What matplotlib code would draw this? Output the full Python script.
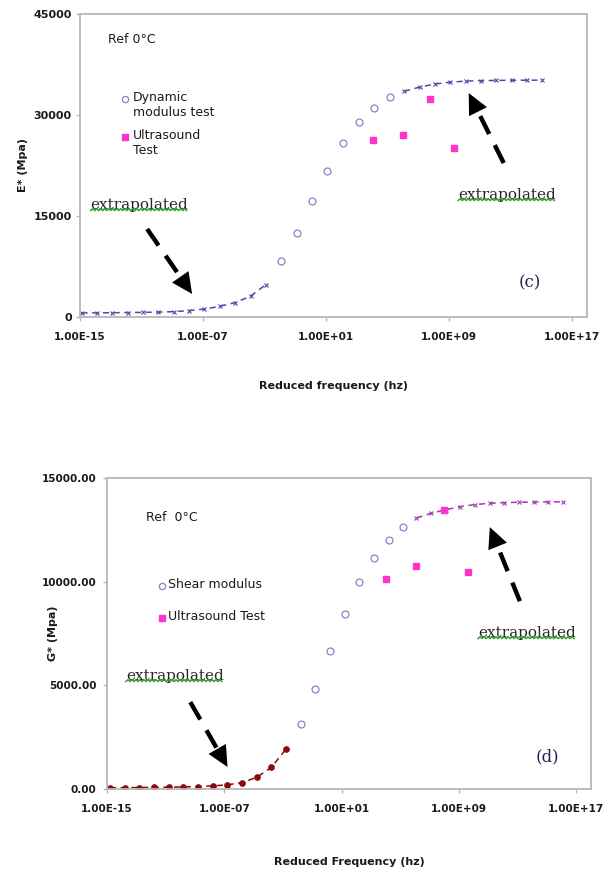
import matplotlib
matplotlib.use('Agg')
import matplotlib.pyplot as plt
import numpy as np
from matplotlib.lines import Line2D
from matplotlib.transforms import IdentityTransform
from matplotlib.ticker import FixedLocator, FuncFormatter, NullLocator

# (c) dynamic modulus E*, ref 0°C -- x values are log10 of reduced frequency
dyn_logf = [-1.9, -0.9, 0.1, 1.1, 2.1, 3.15, 4.15, 5.2]
dyn_E = [8390, 12470, 17240, 21700, 25820, 28890, 31110, 32620]

e_low_logf = [-14.9, -13.9, -12.9, -11.9, -10.9, -9.9, -8.9, -7.9, -6.9, -5.9, -4.9, -3.9, -2.9]
e_low = [600, 620, 640, 660, 690, 720, 800, 940, 1190, 1590, 2140, 3080, 4820]

e_high_logf = [6.1, 7.1, 8.1, 9.1, 10.1, 11.1, 12.1, 13.1, 14.1, 15.1]
e_high = [33500, 34150, 34600, 34880, 35030, 35100, 35140, 35160, 35170, 35180]

us_e_logf = [4.1, 6.0, 7.8, 9.35]
us_E = [26230, 27080, 32370, 25120]

# (d) shear modulus G*
shear_logf = [-1.8, -0.8, 0.2, 1.2, 2.2, 3.2, 4.2, 5.2]
shear_G = [3125, 4810, 6650, 8435, 9970, 11145, 12020, 12630]

g_low_logf = [-14.8, -13.8, -12.8, -11.8, -10.8, -9.8, -8.8, -7.8, -6.8, -5.8, -4.8, -3.8, -2.8]
g_low = [60, 65, 70, 78, 88, 100, 120, 150, 200, 310, 560, 1040, 1920]

g_high_logf = [6.1, 7.1, 8.1, 9.1, 10.1, 11.1, 12.1, 13.1, 14.1, 15.1, 16.1]
g_high = [13070, 13300, 13470, 13620, 13720, 13780, 13810, 13830, 13840, 13845, 13850]

us_g_logf = [4.0, 6.1, 8.0, 9.6]
us_G = [10130, 10740, 13480, 10450]

xtick_exp = [-15, -7, 1, 9, 17]
e_ticks = [0, 15000, 30000, 45000]
g_ticks = [0, 5000, 10000, 15000]

circ_col = '#8484cc'
sq_col = '#ff33cc'
blue_curve = '#4c4ca8'
purple_curve = '#a03cb4'
red_curve = '#8b0a0a'
text_col = '#1a1a1a'


def f(logs):
    return 10.0 ** np.array(logs)


fig = plt.figure(figsize=(6.08, 8.74), dpi=100)
ax1 = fig.add_axes([80 / 608, 1 - 317 / 874, 507 / 608, 303 / 874])
ax2 = fig.add_axes([107 / 608, 1 - 789 / 874, 484 / 608, 311 / 874])


def style_axes(ax, yticks, yfmt, ysize, ypad):
    ax.set_xscale('log')
    ax.set_xlim(1e-15, 1e18)
    ax.set_ylim(yticks[0], yticks[-1])
    ax.xaxis.set_major_locator(FixedLocator(f(xtick_exp)))
    ax.xaxis.set_minor_locator(NullLocator())
    ax.xaxis.set_major_formatter(FuncFormatter(lambda v, p: f'{v:.2E}'))
    ax.yaxis.set_major_locator(FixedLocator(yticks))
    ax.yaxis.set_major_formatter(FuncFormatter(yfmt))
    for s in ax.spines.values():
        s.set_color('#b8b8b8')
        s.set_linewidth(1.3)
    ax.tick_params(axis='both', colors='#b8b8b8', length=3, width=1,
                   direction='out', labelcolor=text_col)
    ax.tick_params(axis='x', labelsize=7.5, pad=8)
    ax.tick_params(axis='y', labelsize=ysize, pad=ypad)
    for lab in ax.get_xticklabels() + ax.get_yticklabels():
        lab.set_fontweight('bold')


style_axes(ax1, e_ticks, lambda v, p: f'{v:.0f}', 8, 3)
style_axes(ax2, g_ticks, lambda v, p: f'{v:.2f}', 7.5, 4.5)

dash = (0, (4, 3))

# top panel
ax1.plot(f(e_low_logf), e_low, ls=dash, color=blue_curve, lw=1.1,
         marker='x', ms=2.5, mew=0.8)
ax1.plot(f(e_high_logf), e_high, ls=dash, color=blue_curve, lw=1.1,
         marker='x', ms=2.5, mew=0.8)
ax1.plot(f(dyn_logf), dyn_E, ls='none', marker='o', ms=5, mfc='white',
         mec=circ_col, mew=0.9)
ax1.plot(f(us_e_logf), us_E, ls='none', marker='s', ms=4.5, color=sq_col)

# bottom panel
ax2.plot(f(g_low_logf), g_low, ls=dash, color=red_curve, lw=1.1,
         marker='o', ms=3.8)
ax2.plot(f(g_high_logf), g_high, ls=dash, color=purple_curve, lw=1.1,
         marker='x', ms=2.5, mew=0.8)
ax2.plot(f(shear_logf), shear_G, ls='none', marker='o', ms=5, mfc='white',
         mec=circ_col, mew=0.9)
ax2.plot(f(us_g_logf), us_G, ls='none', marker='s', ms=4.5, color=sq_col)

# axis titles
ax1.set_xlabel('Reduced frequency (hz)', fontsize=8, fontweight='bold', color=text_col)
ax1.xaxis.set_label_coords(0.5, -0.211)
ax1.set_ylabel('E* (Mpa)', fontsize=8, fontweight='bold', color=text_col)
ax1.yaxis.set_label_coords(-0.103, 0.5)
ax2.set_xlabel('Reduced Frequency (hz)', fontsize=8, fontweight='bold', color=text_col)
ax2.xaxis.set_label_coords(0.5, -0.219)
ax2.set_ylabel('G* (Mpa)', fontsize=8, fontweight='bold', color=text_col)
ax2.yaxis.set_label_coords(-0.101, 0.5)


def key(ax, x, y, label, dx, **style):
    ax.plot([x], [y], transform=ax.transAxes, ls='none', clip_on=False, **style)
    ax.annotate(label, xy=(x, y), xycoords='axes fraction', xytext=(dx, 5.5),
                textcoords='offset points', va='top', ha='left', fontsize=9,
                color=text_col, linespacing=1.15)


key(ax1, 0.0888, 0.7195, 'Dynamic\nmodulus test', 5.8, marker='o', ms=4.5,
    mfc='white', mec=circ_col, mew=0.9)
key(ax1, 0.0888, 0.594, 'Ultrasound\nTest', 5.8, marker='s', ms=4.5, color=sq_col)
key(ax2, 0.1136, 0.6527, 'Shear modulus', 4.3, marker='o', ms=4.5,
    mfc='white', mec=circ_col, mew=0.9)
key(ax2, 0.1136, 0.55, 'Ultrasound Test', 4.3, marker='s', ms=4.5, color=sq_col)

ax1.text(10 ** -13.17, 41280, 'Ref 0°C', fontsize=9, color=text_col, va='center')
ax2.text(10 ** -12.33, 13110, 'Ref  0°C', fontsize=9, color=text_col, va='center')

notes = [
    ax1.text(10 ** -11.12, 16630, 'extrapolated', family='DejaVu Serif',
             fontsize=11, color='#2b2620', ha='center', va='center'),
    ax1.text(10 ** 12.8, 18120, 'extrapolated', family='DejaVu Serif',
             fontsize=11, color='#2b2620', ha='center', va='center'),
    ax2.text(10 ** -10.38, 5450, 'extrapolated', family='DejaVu Serif',
             fontsize=11, color='#2b2620', ha='center', va='center'),
    ax2.text(10 ** 13.63, 7520, 'extrapolated', family='DejaVu Serif',
             fontsize=11, color='#2b2620', ha='center', va='center'),
]

ax1.text(10 ** 14.27, 5050, '(c)', family='DejaVu Serif', fontsize=12,
         color='#20205a', ha='center', va='center')
ax2.text(10 ** 15.0, 1540, '(d)', family='DejaVu Serif', fontsize=12,
         color='#20205a', ha='center', va='center')


def dashed_arrow(ax, tail, tip, frac=0.78):
    # dashed shaft up to the head base, then a solid filled head
    bx = tail[0] + frac * (tip[0] - tail[0])
    by = tail[1] + frac * (tip[1] - tail[1])
    ax.plot([10 ** tail[0], 10 ** bx], [tail[1], by], color='black', lw=3.2,
            ls=(0, (4.5, 2.8)), solid_capstyle='butt', dash_capstyle='butt')
    ax.annotate('', xy=(10 ** tip[0], tip[1]), xytext=(10 ** bx, by),
                arrowprops=dict(arrowstyle='-|>,head_length=0.75,head_width=0.36',
                                lw=0, color='black', shrinkA=0, shrinkB=0,
                                mutation_scale=20))


dashed_arrow(ax1, (-10.63, 13070), (-7.7, 3420))
dashed_arrow(ax1, (12.58, 22870), (10.3, 33260))
dashed_arrow(ax2, (-9.32, 4190), (-6.78, 1060))
dashed_arrow(ax2, (13.15, 9060), (11.1, 12630))

# green wavy underline beneath each "extrapolated"
fig.canvas.draw()
for t in notes:
    bb = t.get_window_extent()
    xs = np.arange(bb.x0, bb.x1, 2.0)
    ys = bb.y0 + 1.5 + 1.8 * (np.arange(len(xs)) % 2)
    fig.add_artist(Line2D(xs, ys, transform=IdentityTransform(),
                          color='#2ca02c', lw=1.1))

fig.savefig('out.png', dpi=100)
